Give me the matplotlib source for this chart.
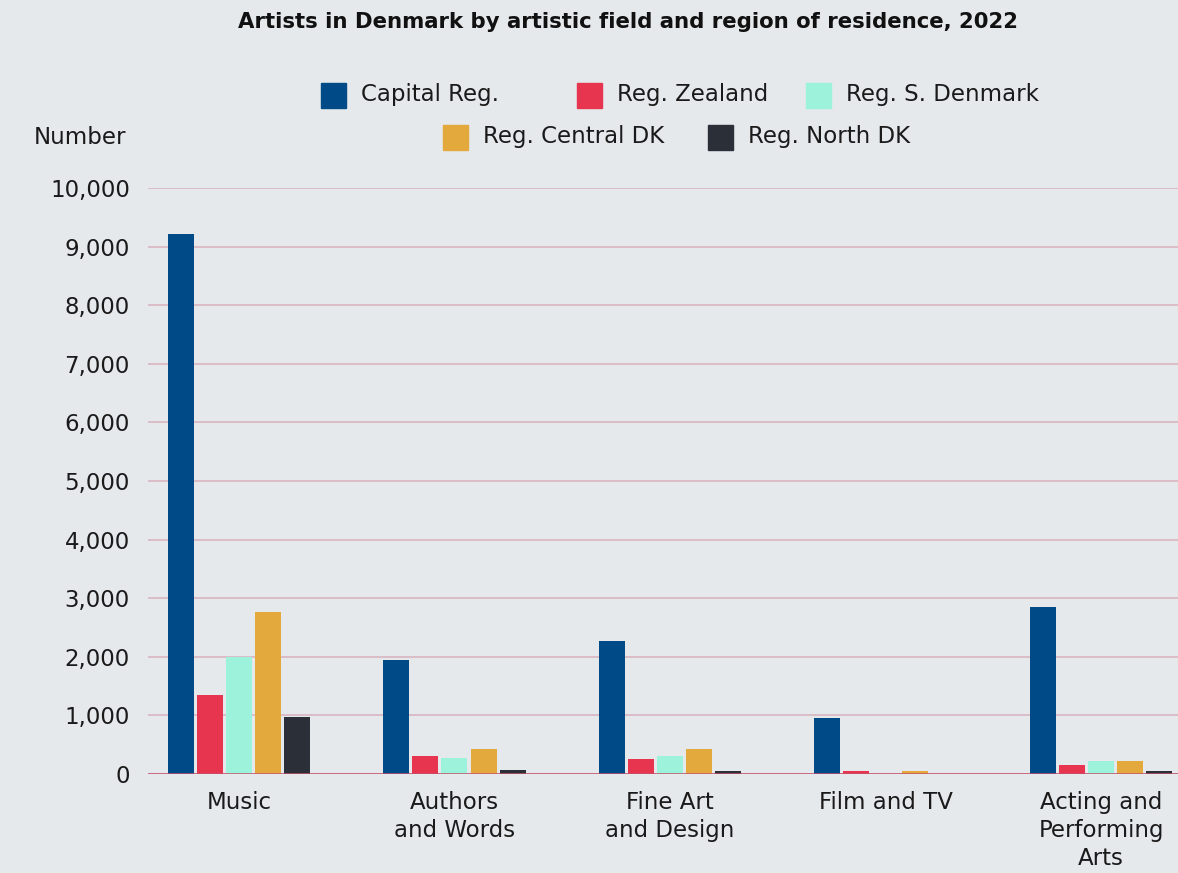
import numpy as np
import matplotlib.pyplot as plt
from matplotlib.patches import Rectangle

plt.rcParams['font.family'] = ['DejaVu Sans']

fields = ['Music', 'Authors\nand Words', 'Fine Art\nand Design',
          'Film and TV', 'Acting and\nPerforming\nArts']
regions = ['Capital Reg.', 'Reg. Zealand', 'Reg. S. Denmark',
           'Reg. Central DK', 'Reg. North DK']

capital = [9220, 1945, 2270, 955, 2850]
zealand = [1350, 305, 255, 50, 155]
s_denmark = [2000, 275, 305, 0, 220]
central = [2765, 425, 425, 50, 220]
north = [975, 65, 50, 0, 50]

colors = ['#004a87', '#e8354f', '#9cf2da', '#e3a93c', '#2b3038']
bg = '#e5e9ec'
ink = '#1a1a1a'

series = [capital, zealand, s_denmark, central, north]

fig = plt.figure(figsize=(11.78, 8.73), dpi=100, facecolor=bg)
ax = fig.add_axes([0.1256, 0.1134, 0.8744, 0.6713], facecolor=bg)

x = np.arange(len(fields))
step = 0.135
width = 0.121
for i, (vals, col) in enumerate(zip(series, colors)):
    ax.bar(x + (i - 2) * step, vals, width, color=col, zorder=3)

ax.set_xlim(-0.422, 4.357)
ax.set_ylim(0, 10000)
ax.set_yticks(np.arange(0, 10001, 1000))
ax.set_yticklabels([f'{v:,}' for v in range(0, 10001, 1000)])
ax.yaxis.grid(True, color='#dbbcc8', lw=1.4, zorder=0)
ax.axhline(0, color='#c4506a', lw=1.8, zorder=4)
for s in ax.spines.values():
    s.set_visible(False)
ax.tick_params(axis='y', length=0, pad=13, labelsize=16.5, labelcolor=ink)
ax.tick_params(axis='x', length=0, pad=12, labelsize=16.5, labelcolor=ink)
ax.set_xticks(x)
ax.set_xticklabels(fields, linespacing=1.3, va='top')

fig.text(0.533, 0.975, 'Artists in Denmark by artistic field and region of residence, 2022',
         ha='center', va='center', fontsize=15.3, fontweight='bold', color='#111111')
fig.text(0.029, 0.842, 'Number', ha='left', va='center', fontsize=16.5, color=ink)

# legend drawn as two centred rows
leg_pos = [(321, 95), (577, 95), (806, 95), (443, 137), (708, 137)]
W, H = 1178, 873
for (px, py), name, col in zip(leg_pos, regions, colors):
    fig.patches.append(Rectangle((px / W, (H - py - 12.5) / H), 25 / W, 25 / H,
                                 transform=fig.transFigure, color=col))
    fig.text((px + 40) / W, (H - py) / H, name, ha='left', va='center',
             fontsize=16.5, color=ink)

fig.savefig('out.png', dpi=100, facecolor=bg)
